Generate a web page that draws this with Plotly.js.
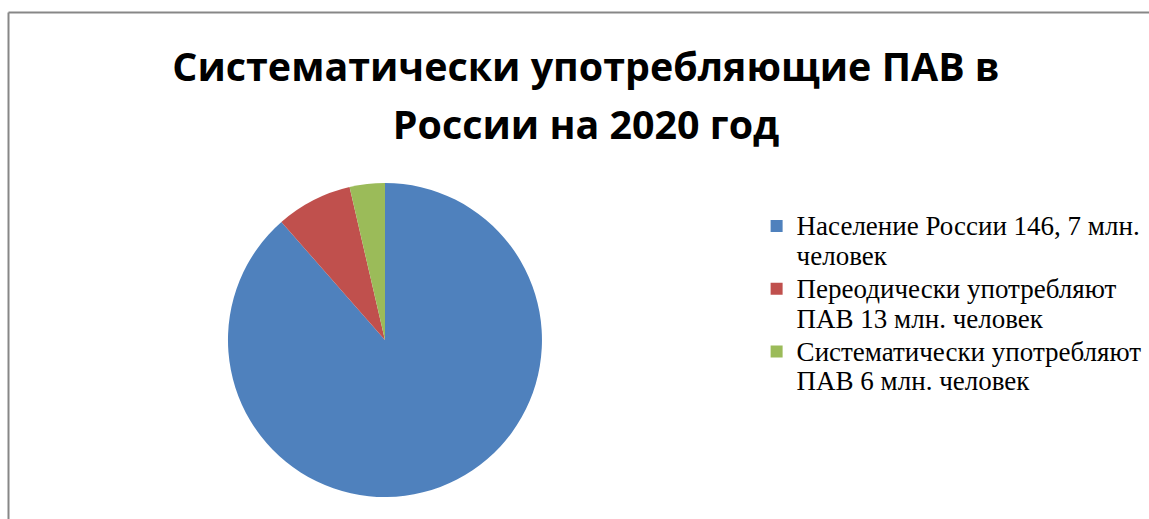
<!DOCTYPE html>
<html><head><meta charset="utf-8">
<script src="https://cdn.plot.ly/plotly-3.0.1.min.js"></script>
<style>html,body{margin:0;padding:0;background:#fff;}#chart{width:1149px;height:519px;}</style>
</head><body><div id="chart"></div>
<script>
const titleLines = ['Систематически употребляющие ПАВ в', 'России на 2020 год'];
const categories = [
  ['Население России 146, 7 млн.', 'человек'],
  ['Переодически употребляют', 'ПАВ 13 млн. человек'],
  ['Систематически употребляют', 'ПАВ 6 млн. человек']
];
const values = [146.7, 13, 6];
const colors = ['#4F81BD', '#C0504D', '#9BBB59'];

const big = (s, px) => '<span style="font-size:' + px + 'px">' + s + '</span>';

const trace = {
  type: 'pie',
  labels: categories.map(l => l.map(s => big(s, 27)).join('<br>')),
  values: values,
  sort: false,
  direction: 'clockwise',
  rotation: 0,
  textinfo: 'none',
  hoverinfo: 'label+value',
  marker: {colors: colors, line: {width: 0}},
  domain: {x: [0.1984, 0.4717], y: [0.0424, 0.6474]}
};

const layout = {
  width: 1149, height: 519,
  margin: {l: 0, r: 0, t: 0, b: 0},
  paper_bgcolor: '#fff',
  showlegend: true,
  title: {
    text: titleLines.map(s => big(s, 39.4)).join('<br>'),
    font: {family: 'Open Sans, sans-serif', size: 44.6, color: '#000', weight: 'bold'},
    x: 0.51, xanchor: 'center', y: 0.8446, yanchor: 'bottom', yref: 'container'
  },
  legend: {
    x: 0.6585, xanchor: 'left', y: 0.606, yanchor: 'top',
    valign: 'top',
    font: {family: 'Liberation Serif, Times New Roman, serif', size: 23, color: '#000'},
    tracegroupgap: 0, itemwidth: 30
  },
  shapes: [
    {type: 'line', xref: 'paper', yref: 'paper', x0: 0.0074, x1: 1, y0: 0.976, y1: 0.976, line: {color: '#878787', width: 2}},
    {type: 'line', xref: 'paper', yref: 'paper', x0: 0.0074, x1: 0.0074, y0: 0, y1: 0.976, line: {color: '#878787', width: 2}}
  ]
};

Plotly.newPlot('chart', [trace], layout, {displayModeBar: false, staticPlot: true});
</script></body></html>
